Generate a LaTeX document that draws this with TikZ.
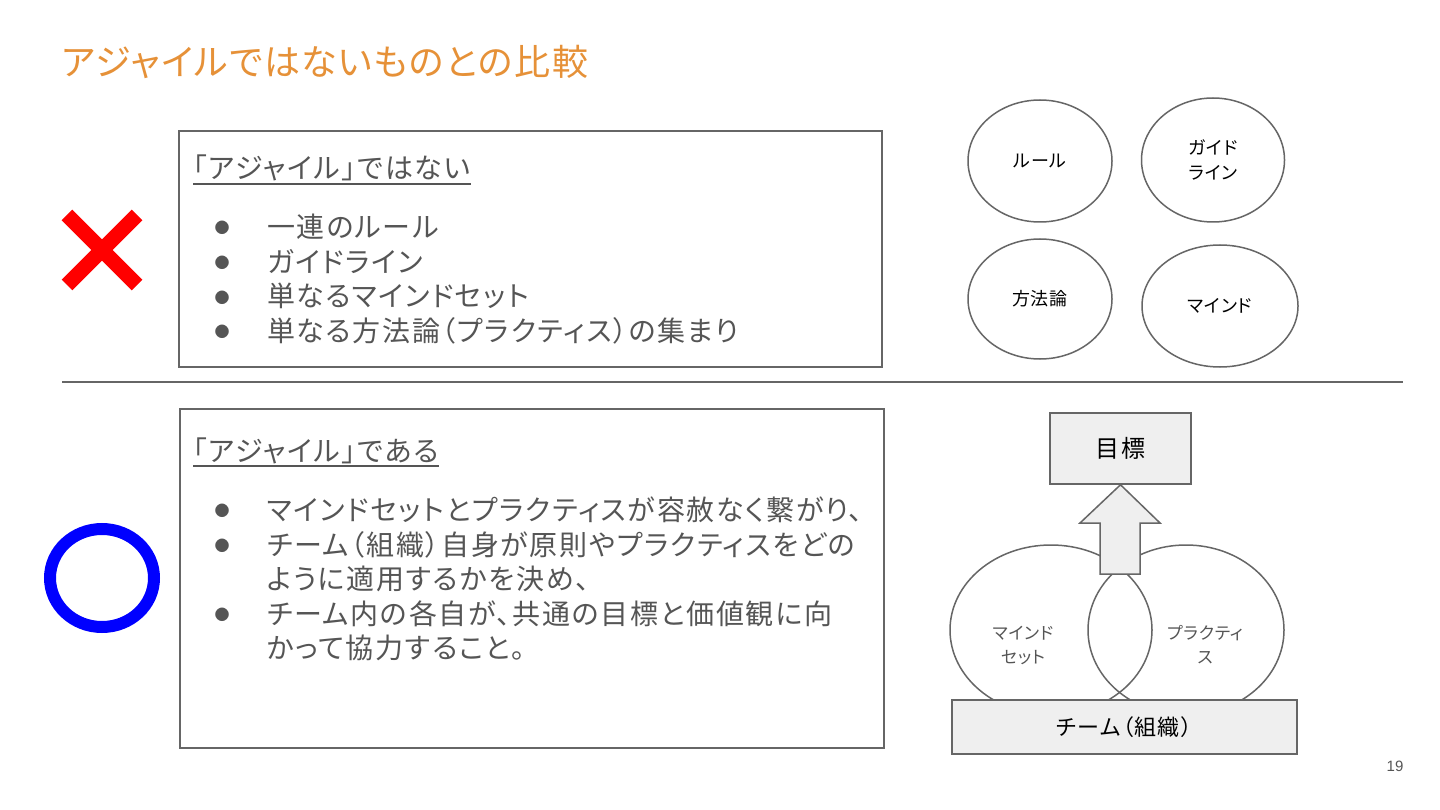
\documentclass[tikz,border=0pt]{standalone}
\usepackage{fontspec}
\usetikzlibrary{shapes.geometric}
\setmainfont{Noto Sans CJK JP}[RawFeature=+palt, LetterSpace=6]
\newfontfamily\titlefont{Noto Sans CJK JP}[RawFeature=+palt, LetterSpace=4]
\newfontfamily\smallfont{Noto Sans CJK JP}[RawFeature=+palt, LetterSpace=4]
\newfontfamily\latinfont{Liberation Sans}
\definecolor{txtgray}{HTML}{555555}
\definecolor{linegray}{HTML}{666666}
\definecolor{titleorange}{HTML}{E69138}
\definecolor{boxfill}{HTML}{EFEFEF}
\definecolor{xred}{HTML}{FF0000}
\definecolor{oblue}{HTML}{0000FF}
\tikzset{
  panel/.style={draw=linegray, line width=2pt},
  heading/.style={anchor=base west, inner sep=0pt, text=txtgray, font=\fontsize{28}{32}\selectfont},
  itemtext/.style={anchor=base west, inner sep=0pt, text=txtgray, font=\fontsize{28}{32}\selectfont},
  bulletmark/.style={anchor=base, inner sep=0pt, text=txtgray, font=\fontsize{15}{18}\selectfont},
  bubble/.style={draw=linegray, line width=1.5pt},
  bubbletext/.style={align=center, inner sep=0pt, text=black, font=\smallfont\fontsize{18}{25}\selectfont},
  venntext/.style={align=center, inner sep=0pt, text=txtgray, font=\smallfont\fontsize{17}{24}\selectfont},
  graybox/.style={draw=linegray, line width=1.5pt, fill=boxfill},
}
\begin{document}
\begin{tikzpicture}[x=1pt,y=-1pt]
\useasboundingbox (0,0) rectangle (1440,810);
\fill[white] (0,0) rectangle (1440,810);

% title
\node[anchor=base west, inner sep=0pt, text=titleorange, font=\titlefont\fontsize{36}{40}\selectfont] (title) at (62,76) {アジャイルではないものとの比較};

% top panel
\draw[panel] (179,131) rectangle (882,367);
\node[heading] (h1) at (193,179) {「アジャイル」ではない};
\draw[txtgray, line width=2pt] ([yshift=-5pt]h1.base west) -- ([yshift=-5pt]h1.base east);
\node[bulletmark] (b1) at (222,234) {●};
\node[itemtext] (t1) at (267,238) {一連のルール};
\node[bulletmark] (b2) at (222,269) {●};
\node[itemtext] (t2) at (267,273) {ガイドライン};
\node[bulletmark] (b3) at (222,303) {●};
\node[itemtext] (t3) at (267,307) {単なるマインドセット};
\node[bulletmark] (b4) at (222,337) {●};
\node[itemtext] (t4) at (267,341) {単なる方法論（プラクティス）の集まり};

% red cross
\draw[xred, line width=15pt] (67,215) -- (137,285);
\draw[xred, line width=15pt] (137,215) -- (67,285);

% divider
\draw[linegray, line width=2pt] (62,382) -- (1403,382);

% bottom panel
\draw[panel] (180,409) rectangle (884,748);
\node[heading] (h2) at (193,461) {「アジャイル」である};
\draw[txtgray, line width=2pt] ([yshift=-5pt]h2.base west) -- ([yshift=-5pt]h2.base east);
\node[bulletmark] (c1) at (222,516) {●};
\node[itemtext] (u1) at (267,520) {マインドセットとプラクティスが容赦なく繋がり、};
\node[bulletmark] (c2) at (222,551) {●};
\node[itemtext] (u2) at (267,555) {チーム（組織）自身が原則やプラクティスをどの};
\node[itemtext] (u2b) at (267,589) {ように適用するかを決め、};
\node[bulletmark] (c3) at (222,620) {●};
\node[itemtext] (u3) at (267,624) {チーム内の各自が、共通の目標と価値観に向};
\node[itemtext] (u3b) at (267,658) {かって協力すること。};

% blue circle
\draw[oblue, line width=12pt] (102,578) ellipse [x radius=52, y radius=49];

% top-right bubbles
\node[bubble, ellipse, minimum width=144pt, minimum height=122pt, inner sep=0pt] (e1) at (1040,161) {};
\node[bubbletext] at (e1.center) {ルール};
\node[bubble, ellipse, minimum width=143pt, minimum height=124pt, inner sep=0pt] (e2) at (1213,160) {};
\node[bubbletext] at (e2.center) {ガイド\\ライン};
\node[bubble, ellipse, minimum width=144pt, minimum height=120pt, inner sep=0pt] (e3) at (1040,299) {};
\node[bubbletext] at (e3.center) {方法論};
\node[bubble, ellipse, minimum width=156pt, minimum height=122pt, inner sep=0pt] (e4) at (1220,306) {};
\node[bubbletext] at (e4.center) {マインド};

% venn
\draw[bubble] (1051,630) ellipse [x radius=101, y radius=85];
\draw[bubble] (1186,630) ellipse [x radius=98, y radius=85];
\node[venntext] (vm) at (1023,645) {マインド\\セット};
\node[venntext] (vp) at (1205,645) {プラクティ\\ス};
\node[graybox, minimum width=345pt, minimum height=54pt, inner sep=0pt, font=\fontsize{22}{26}\selectfont, text=black] (team) at (1124.5,727) {チーム（組織）};
\node[graybox, minimum width=141pt, minimum height=71pt, inner sep=0pt, font=\fontsize{24}{28}\selectfont, text=black] (goal) at (1120.5,448.5) {目標};
\coordinate (tip) at (goal.south);
\draw[graybox] (tip) -- (1160,523) -- (1140,523) -- (1140,574) -- (1100,574) -- (1100,523) -- (1080,523) -- cycle;

% page number
\node[inner sep=0pt, text=txtgray, font=\latinfont\fontsize{15}{18}\selectfont] (pg) at (1395,766) {19};
\end{tikzpicture}
\end{document}
